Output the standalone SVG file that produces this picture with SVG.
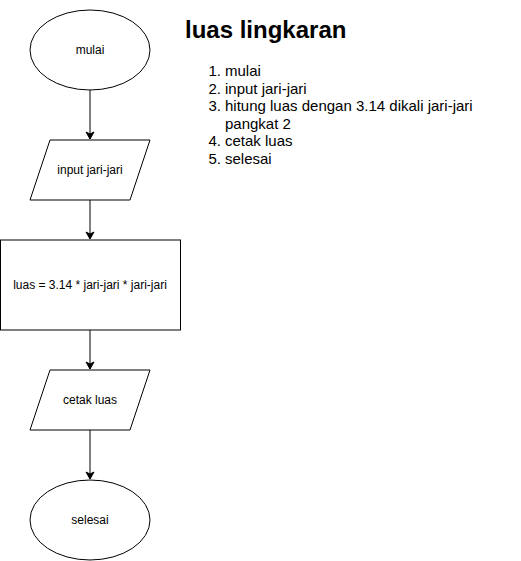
<svg xmlns="http://www.w3.org/2000/svg" width="521" height="561" viewBox="0 0 521 561">
<style>
.shape{fill:#ffffff;stroke:#000000;stroke-width:1}
.lbl{font-family:"Liberation Sans",Arial,sans-serif;font-size:12px;fill:#000000;text-anchor:middle}
.edge{fill:none;stroke:#000000;stroke-width:1}
.title{font-family:"Liberation Sans",Arial,sans-serif;font-size:24px;font-weight:bold;fill:#000000}
.li{font-family:"Liberation Sans",Arial,sans-serif;font-size:15px;fill:#000000}
.num{font-family:"Liberation Sans",Arial,sans-serif;font-size:15px;fill:#000000;text-anchor:end}
</style>
<defs>
<marker id="arrow" markerWidth="10" markerHeight="10" refX="8" refY="5" orient="auto" markerUnits="userSpaceOnUse">
<path d="M1,1 L8,5 L1,9 L3,5 Z" fill="#000000" stroke="#000000" stroke-width="1" stroke-linejoin="miter"/>
</marker>
</defs>
<rect x="0" y="0" width="521" height="561" fill="#ffffff"/>
<g id="connectors">
<line class="edge" x1="90" y1="90" x2="90" y2="139" marker-end="url(#arrow)"/>
<line class="edge" x1="90" y1="200" x2="90" y2="239" marker-end="url(#arrow)"/>
<line class="edge" x1="90" y1="330" x2="90" y2="369" marker-end="url(#arrow)"/>
<line class="edge" x1="90" y1="430" x2="90" y2="479" marker-end="url(#arrow)"/>
</g>
<g id="node-mulai">
<ellipse class="shape" cx="90" cy="50" rx="60" ry="40"/>
<text class="lbl" x="90" y="54">mulai</text>
</g>
<g id="node-input">
<polygon class="shape" points="50,140 150,140 130,200 30,200"/>
<text class="lbl" x="90" y="174">input jari-jari</text>
</g>
<g id="node-hitung">
<rect class="shape" x="0.5" y="240" width="180" height="90"/>
<text class="lbl" x="90" y="289">luas = 3.14 * jari-jari * jari-jari</text>
</g>
<g id="node-cetak">
<polygon class="shape" points="50,370 150,370 130,430 30,430"/>
<text class="lbl" x="90" y="404">cetak luas</text>
</g>
<g id="node-selesai">
<ellipse class="shape" cx="90" cy="520" rx="60" ry="40"/>
<text class="lbl" x="90" y="524">selesai</text>
</g>
<g id="note">
<text class="title" x="185" y="38">luas lingkaran</text>
<text class="num" x="221" y="76">1.</text>
<text class="li" x="225" y="76">mulai</text>
<text class="num" x="221" y="93.5">2.</text>
<text class="li" x="225" y="93.5">input jari-jari</text>
<text class="num" x="221" y="111">3.</text>
<text class="li" x="225" y="111">hitung luas dengan 3.14 dikali jari-jari</text>
<text class="li" x="225" y="128.5">pangkat 2</text>
<text class="num" x="221" y="146">4.</text>
<text class="li" x="225" y="146">cetak luas</text>
<text class="num" x="221" y="163.5">5.</text>
<text class="li" x="225" y="163.5">selesai</text>
</g>
</svg>
